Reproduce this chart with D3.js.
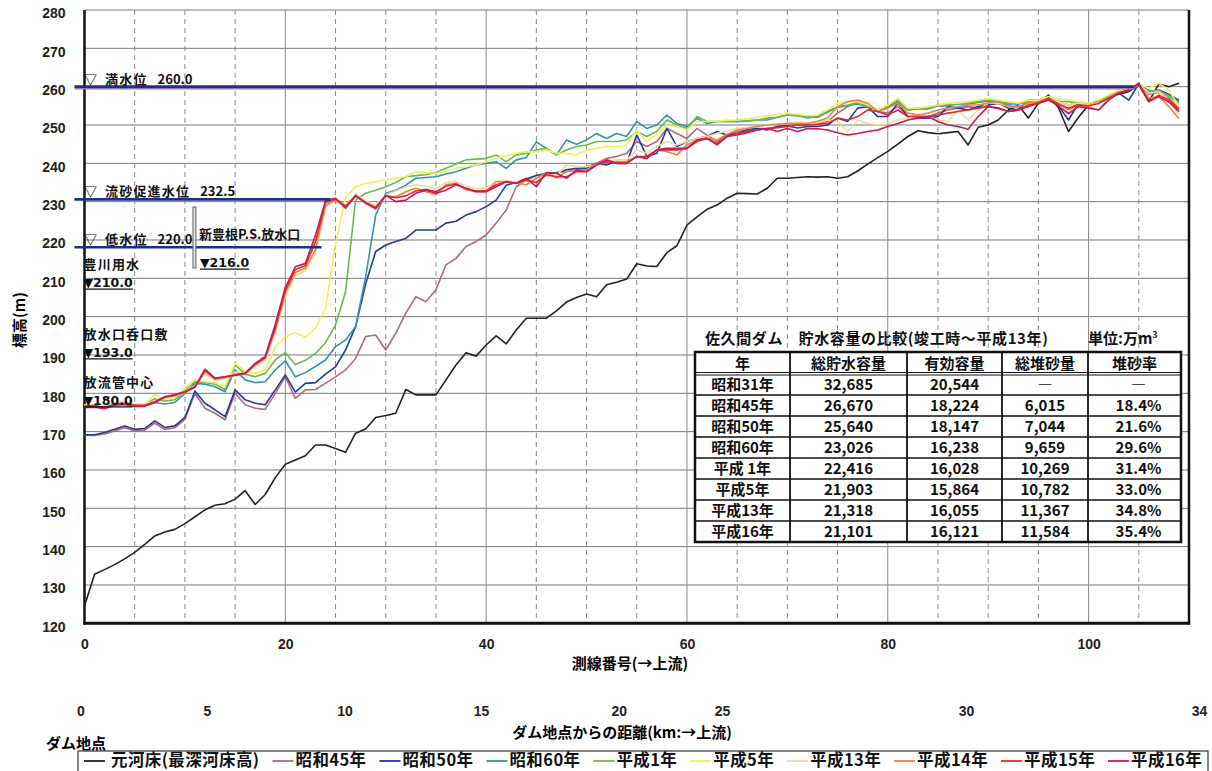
<!DOCTYPE html>
<html>
<head>
<meta charset="utf-8">
<script src="https://cdn.jsdelivr.net/npm/d3@7"></script>
<style>
body { margin: 0; background: #fff; }
svg text { font-family: "Noto Sans CJK JP", "Liberation Sans", sans-serif; }
.tick text { font-family: "Liberation Sans", Arial, sans-serif; font-weight: bold; font-size: 14px; fill: #222; }
.grid-h { stroke: #7a7a7a; stroke-width: 1; }
.grid-v { stroke: #8a8a8a; stroke-width: 1; }
.grid-d { stroke: #8a8a8a; stroke-width: 1; stroke-dasharray: 5 4; }
.series { fill: none; stroke-width: 1.6; stroke-linejoin: round; }
.note { font-size: 13px; font-weight: bold; fill: #111; }
.mark { font-family: "DejaVu Sans", "Liberation Sans", sans-serif; font-size: 12.5px; }
.tbl { font-size: 15px; font-weight: bold; fill: #111; }
</style>
</head>
<body>
<div id="chart"></div>
<script>
// DATA
// survey line numbers 0..109 (測線番号)
const lineNo = d3.range(0, 110);

const seriesNames = ["元河床(最深河床高)", "昭和45年", "昭和50年", "昭和60年", "平成1年",
    "平成5年", "平成13年", "平成14年", "平成15年", "平成16年"];
const seriesColors = ["#222222", "#b86878", "#1f3d9c", "#2f96aa", "#6cb84a",
    "#eef05a", "#f0dc9c", "#e8844a", "#e22a26", "#c81a58"];

const motoKasho = [124.5,132.8,134.0,135.3,136.8,138.5,140.6,142.8,143.8,144.5,
    146.0,147.8,149.6,150.8,151.2,152.4,154.6,151.0,153.6,158.0,
    161.5,162.6,163.7,166.5,166.5,165.6,164.6,169.6,170.7,173.7,
    174.2,174.8,181.0,179.6,179.6,179.6,183.5,187.4,190.6,189.7,
    192.6,195.0,192.9,196.5,199.6,199.6,199.6,201.5,203.8,205.0,
    205.9,205.2,208.3,209.0,209.8,213.8,213.2,213.1,216.7,218.5,
    223.9,226.0,228.0,229.1,230.9,232.2,232.1,232.0,233.5,236.1,
    236.1,236.3,236.5,236.4,236.5,236.1,236.5,238.0,239.8,241.5,
    243.1,245.0,247.0,248.5,248.0,247.7,248.0,248.3,244.8,249.4,
    250.0,251.3,253.9,255.2,251.8,255.7,257.8,254.5,248.3,252.0,
    255.2,256.4,257.4,258.0,258.7,260.5,256.1,260.7,260.0,260.9];

const s45 = [169.1,169.0,169.4,170.2,171.0,170.2,170.4,172.2,170.6,171.0,
    173.2,180.0,176.1,174.8,173.1,180.0,177.0,176.1,175.8,180.0,
    184.3,178.7,180.9,181.0,182.6,184.3,186.1,189.1,194.8,195.2,
    191.3,195.7,200.9,205.2,203.9,207.0,213.5,215.2,218.3,219.6,
    221.3,224.4,227.8,233.9,235.6,236.8,237.4,237.6,237.8,238.3,
    239.1,240.0,241.3,241.8,242.6,245.7,244.4,245.7,249.1,247.8,
    246.5,249.1,247.4,245.7,247.4,248.3,248.7,249.1,249.1,249.5,
    250.0,250.0,250.0,250.2,250.9,253.1,254.8,256.1,255.2,253.5,
    253.1,254.8,252.2,252.2,252.2,253.1,253.9,254.4,254.8,254.4,
    255.2,255.7,255.2,254.4,254.8,255.7,256.5,255.5,254.0,255.7,
    255.2,256.1,257.4,258.7,259.1,260.7,258.0,258.5,257.0,254.4];

const s50 = [169.2,169.2,169.8,170.6,171.5,170.6,170.8,172.8,171.1,171.5,
    173.7,180.6,177.4,175.7,173.9,180.9,178.3,177.4,177.0,180.9,
    184.8,180.3,182.6,182.8,185.0,186.9,191.3,197.4,208.5,217.0,
    218.7,219.6,220.4,222.6,222.6,222.6,224.4,224.9,226.5,227.4,
    228.7,230.4,234.3,235.0,235.9,236.8,237.2,237.4,238.3,238.7,
    238.7,240.0,239.6,240.5,240.0,247.4,241.8,242.6,249.1,244.4,
    245.7,246.5,247.0,248.3,247.4,247.8,248.7,249.1,248.7,249.6,
    249.8,249.2,249.6,249.6,250.0,251.8,250.9,254.4,254.8,252.2,
    252.2,255.7,252.2,251.8,251.8,252.2,254.8,254.4,253.9,254.8,
    255.2,255.7,254.4,253.9,256.5,256.5,257.0,255.0,251.3,255.7,
    255.2,256.1,257.4,258.3,256.5,260.7,258.7,259.1,258.0,256.5];

const s60 = [176.5,176.7,176.5,177.2,177.4,176.9,176.9,177.6,177.2,177.6,
    180.0,182.6,182.4,181.7,180.4,186.1,183.5,182.8,183.0,186.1,
    188.5,184.3,185.4,187.0,188.7,192.2,193.9,197.4,210.4,226.5,
    232.2,233.0,234.3,236.1,236.3,236.5,237.2,237.8,238.7,239.6,
    240.0,240.4,238.7,240.9,241.5,245.6,243.9,242.2,246.1,245.0,
    246.1,247.8,246.5,247.8,247.0,250.9,249.1,250.0,252.6,250.4,
    249.6,251.7,250.4,250.9,250.9,250.9,251.0,251.3,251.3,252.0,
    252.6,252.4,252.2,252.0,253.3,254.6,255.0,255.5,254.8,253.9,
    254.6,256.1,253.9,254.2,254.2,255.0,255.0,255.5,255.5,255.9,
    256.3,255.9,255.5,255.5,256.1,256.5,257.0,256.0,255.2,255.7,
    255.2,256.1,257.4,258.7,259.1,260.5,259.0,258.7,257.8,256.1];

const h1 = [176.8,176.9,176.6,177.4,177.6,177.0,177.0,178.6,178.0,178.3,
    180.8,183.0,182.8,182.4,181.0,187.4,185.0,184.3,185.2,188.7,
    190.6,187.5,188.6,190.4,193.2,197.8,206.5,230.4,232.2,233.0,
    233.9,235.0,236.5,236.8,237.0,237.6,238.7,239.8,240.9,241.1,
    241.3,242.2,240.4,242.2,242.6,243.5,243.9,242.2,243.5,244.4,
    244.8,245.7,245.7,245.7,246.1,248.3,247.0,248.3,251.3,250.0,
    249.1,252.2,250.9,250.9,250.9,250.9,251.1,251.3,251.8,252.0,
    252.6,252.4,251.8,252.2,253.5,254.8,255.2,255.7,254.8,253.9,
    254.8,256.5,253.9,254.4,254.4,255.2,255.2,255.7,255.7,256.1,
    256.5,256.1,255.7,255.7,256.1,256.5,257.0,256.2,256.1,255.7,
    255.5,256.1,257.4,258.7,259.1,260.5,258.7,259.1,257.4,255.7];

const h5 = [177.0,177.0,176.8,177.6,177.8,177.2,177.2,179.6,178.6,179.0,
    181.3,183.6,183.0,182.8,181.7,187.8,185.7,185.2,186.1,192.2,
    194.8,195.8,194.6,197.0,202.0,219.0,231.0,233.9,234.8,235.2,
    235.7,236.1,236.5,237.8,237.6,237.4,238.0,238.7,239.1,239.6,
    240.4,241.3,242.0,242.6,243.0,243.0,243.5,242.6,242.6,242.2,
    243.5,243.9,244.4,244.4,244.8,248.7,245.7,247.4,250.0,249.6,
    248.7,250.9,250.9,251.0,251.2,251.3,251.6,252.0,252.4,252.8,
    253.1,252.8,252.4,252.6,254.0,255.7,256.1,256.1,255.2,253.9,
    255.2,257.0,254.4,254.4,254.8,255.2,255.7,255.7,256.1,256.5,
    257.0,256.5,256.1,255.7,256.5,256.5,257.4,256.8,256.5,256.1,
    255.7,256.5,257.8,259.1,259.5,260.7,259.6,260.9,259.1,254.8];

const h13 = [176.9,177.0,176.6,177.5,177.7,177.1,177.1,178.0,178.8,179.2,
    180.6,182.0,185.2,183.4,183.8,185.6,185.2,187.0,188.6,195.8,
    205.2,210.8,212.0,216.5,228.4,230.6,229.0,231.8,230.2,229.0,
    231.8,232.8,233.8,234.4,234.0,233.4,235.0,235.2,234.0,233.4,
    233.6,235.4,235.6,235.2,235.2,236.4,236.8,236.8,239.6,239.1,
    239.1,239.6,240.4,240.9,240.9,243.5,242.6,244.4,245.7,244.8,
    245.7,246.5,247.0,247.8,248.5,249.1,249.4,249.6,250.0,250.2,
    250.4,250.8,250.6,250.8,251.3,250.9,248.3,251.3,250.4,250.0,
    250.4,251.3,251.8,252.2,252.2,251.3,250.9,253.9,251.3,253.9,
    255.7,255.7,254.8,254.8,255.7,256.1,257.0,256.0,255.2,255.7,
    255.2,255.7,257.0,258.7,259.5,260.7,258.3,258.7,256.5,252.6];

const h14 = [176.6,176.6,176.3,177.2,177.4,176.8,176.8,177.6,178.9,179.4,
    180.2,181.5,185.8,183.7,184.1,184.6,185.0,187.4,189.1,196.5,
    206.1,211.5,212.6,217.5,229.0,230.5,228.6,231.3,229.6,228.0,
    231.5,231.3,232.6,233.5,232.6,231.8,234.4,234.8,233.1,232.6,
    232.6,235.2,235.2,234.8,234.4,236.1,237.4,236.2,237.8,238.3,
    238.3,240.0,240.4,240.4,240.4,241.8,241.3,243.5,243.1,242.2,
    244.8,246.1,246.5,246.1,247.6,248.7,249.1,249.6,250.0,250.2,
    250.4,250.4,250.4,251.0,251.8,254.8,256.1,256.5,255.7,253.5,
    254.4,255.7,253.1,252.6,253.1,253.9,254.4,254.8,255.2,255.2,
    255.7,256.1,254.8,254.8,255.7,256.1,257.0,255.5,254.0,255.2,
    254.8,253.9,256.8,258.3,259.1,260.5,257.0,257.4,254.8,251.7];

const h15 = [176.7,176.8,176.2,177.2,177.4,176.9,176.9,177.8,179.1,179.6,
    180.4,181.7,186.0,183.9,184.3,184.8,185.2,187.6,189.4,197.2,
    206.8,212.3,213.3,219.5,229.8,230.7,228.8,231.5,229.8,228.5,
    231.5,231.0,231.5,232.8,233.2,232.6,234.0,234.6,233.4,232.8,
    232.8,234.4,235.2,234.8,235.6,235.0,237.0,236.5,236.5,237.8,
    237.8,239.6,240.4,240.0,240.0,241.8,241.8,243.5,243.5,243.5,
    243.9,245.7,246.5,245.2,247.0,247.8,248.2,248.7,249.1,249.3,
    249.6,250.0,250.0,250.2,250.4,251.8,251.3,252.2,253.9,253.5,
    252.6,253.9,252.2,252.2,252.2,252.6,253.1,253.5,253.9,254.4,
    254.8,254.4,253.5,253.9,255.2,255.7,257.0,255.5,254.4,255.2,
    255.0,255.6,257.0,258.5,259.1,260.9,256.1,257.8,256.5,254.0];

const h16 = [176.3,176.4,176.0,176.9,177.1,176.6,176.6,177.6,179.1,179.6,
    180.4,181.7,186.3,183.9,184.3,184.8,185.2,187.8,189.6,198.0,
    207.6,213.0,213.9,221.2,230.2,230.9,228.3,231.7,229.6,228.3,
    231.7,230.0,230.4,232.2,233.0,232.2,233.0,234.4,233.5,232.6,
    232.6,233.9,235.2,234.8,236.1,233.9,237.6,237.4,236.1,238.3,
    237.8,239.6,240.9,240.0,240.0,241.8,241.3,243.5,243.9,243.9,
    243.9,246.1,246.5,244.8,247.0,247.4,248.0,248.7,249.1,248.3,
    249.1,248.3,249.1,249.0,248.7,248.0,247.4,247.8,248.3,248.7,
    249.6,250.4,251.3,251.8,252.2,250.9,250.0,249.6,248.9,252.2,
    254.8,254.4,253.5,253.9,254.8,255.7,256.5,255.0,253.0,254.8,
    254.4,253.9,256.5,258.3,259.1,260.7,256.1,257.4,256.0,253.5];

const seriesValues = [motoKasho, s45, s50, s60, h1, h5, h13, h14, h15, h16];

// axis ticks
const yTicks = d3.range(120, 281, 10);
const xTicks = [0, 20, 40, 60, 80, 100];
const kmLabels = [0, 5, 10, 15, 20, 25, 30, 34];
const kmAtLine = [-0.4, 12.2, 25.9, 39.5, 53.2, 63.5, 87.8, 111.0];

// reservoir levels: label value, drawn elevation, end line no.
const levelNames = ["満水位", "流砂促進水位", "低水位"];
const levelLabels = ["260.0", "232.5", "220.0"];
const levelDrawn = [260.0, 230.6, 218.1];
const levelEnd = [104.5, 24.5, 23.6];

// intake / outlet notes: name, level label, baseline elevation of name
const intakeNames = ["豊川用水", "放水口呑口敷", "放流管中心"];
const intakeLevels = ["▼210.0", "▼193.0", "▼180.0"];
const intakeAt = [212.4, 194.2, 181.7];

// table
const tableTitle = "佐久間ダム　貯水容量の比較(竣工時～平成13年)";
const tableHead = ["年", "総貯水容量", "有効容量", "総堆砂量", "堆砂率"];
const tableYears = ["昭和31年", "昭和45年", "昭和50年", "昭和60年", "平成 1年", "平成5年", "平成13年", "平成16年"];
const totalCap = ["32,685", "26,670", "25,640", "23,026", "22,416", "21,903", "21,318", "21,101"];
const effCap = ["20,544", "18,224", "18,147", "16,238", "16,028", "15,864", "16,055", "16,121"];
const sediment = ["―", "6,015", "7,044", "9,659", "10,269", "10,782", "11,367", "11,584"];
const sedRate = ["―", "18.4%", "21.6%", "29.6%", "31.4%", "33.0%", "34.8%", "35.4%"];

// CHART SETUP
const W = 1212, H = 771;
const x = d3.scaleLinear().domain([0, 110]).range([84.5, 1189]);
const y = d3.scaleLinear().domain([120, 280]).range([623.3, 10]);

const svg = d3.select("#chart").append("svg")
    .attr("width", W).attr("height", H);

svg.append("rect").attr("width", W).attr("height", H).attr("fill", "#fff");

// grid
const gridG = svg.append("g");
gridG.selectAll("line.grid-h")
    .data(yTicks)
    .join("line")
    .attr("class", "grid-h")
    .attr("x1", x(0)).attr("x2", x(110))
    .attr("y1", d => y(d)).attr("y2", d => y(d));

gridG.selectAll("line.vgrid")
    .data(d3.range(5, 110, 5))
    .join("line")
    .attr("class", d => d % 20 === 0 ? "grid-v" : "grid-d")
    .attr("x1", d => x(d)).attr("x2", d => x(d))
    .attr("y1", y(280)).attr("y2", y(120));

// frame
svg.append("line").attr("x1", x(0)).attr("x2", x(0)).attr("y1", y(280)).attr("y2", y(120) + 1.5)
    .attr("stroke", "#111").attr("stroke-width", 2.5);
svg.append("line").attr("x1", x(110)).attr("x2", x(110)).attr("y1", y(280)).attr("y2", y(120) + 1.5)
    .attr("stroke", "#111").attr("stroke-width", 2.5);
svg.append("line").attr("x1", x(0) - 1).attr("x2", x(110) + 1).attr("y1", y(120)).attr("y2", y(120))
    .attr("stroke", "#111").attr("stroke-width", 3);

// axes (labels only)
const yAxis = svg.append("g")
    .attr("transform", `translate(${x(0)},0)`)
    .call(d3.axisLeft(y).tickValues(yTicks).tickSize(0).tickPadding(19));
yAxis.select(".domain").remove();
yAxis.selectAll(".tick text").attr("dy", "0.55em");

const xAxis = svg.append("g")
    .attr("transform", `translate(0,${y(120)})`)
    .call(d3.axisBottom(x).tickValues(xTicks).tickSize(0).tickPadding(16));
xAxis.select(".domain").remove();

const kmAxis = svg.append("g")
    .attr("transform", "translate(0,700)")
    .call(d3.axisBottom(x).tickValues(kmAtLine).tickFormat((d, i) => kmLabels[i]).tickSize(0).tickPadding(6));
kmAxis.select(".domain").remove();

svg.append("text").attr("x", 630).attr("y", 669).attr("text-anchor", "middle")
    .attr("font-size", 15).attr("font-weight", "bold").text("測線番号(→上流)");
svg.append("text").attr("x", 622).attr("y", 738).attr("text-anchor", "middle")
    .attr("font-size", 15).attr("font-weight", "bold").text("ダム地点からの距離(km:→上流)");
svg.append("text").attr("x", 46).attr("y", 749)
    .attr("font-size", 15).attr("font-weight", "bold").text("ダム地点");
svg.append("text").attr("transform", "translate(25,320) rotate(-90)").attr("text-anchor", "middle")
    .attr("font-size", 15).attr("font-weight", "bold").text("標高(m)");

// series
const line = d3.line()
    .x((d, i) => x(lineNo[i]))
    .y(d => y(d));

svg.append("g").selectAll("path")
    .data(seriesValues)
    .join("path")
    .attr("class", "series")
    .attr("stroke", (d, i) => seriesColors[i])
    .attr("stroke-width", (d, i) => i === 0 ? 1.5 : 1.6)
    .attr("d", line);

// reservoir levels
const lvG = svg.append("g");
levelDrawn.forEach((v, i) => {
    if (i === 0) {
        lvG.append("line")
            .attr("x1", x(-1)).attr("x2", x(levelEnd[i]))
            .attr("y1", y(v) + 2).attr("y2", y(v) + 2)
            .attr("stroke", "#9a7aa8").attr("stroke-width", 1.5);
    }
    lvG.append("line")
        .attr("x1", x(-1)).attr("x2", x(levelEnd[i]))
        .attr("y1", y(v)).attr("y2", y(v))
        .attr("stroke", "#1b2f8c").attr("stroke-width", 2.6);
    const t = lvG.append("text").attr("class", "note")
        .attr("x", 84).attr("y", y(v) - 3);
    t.append("tspan").text("▽");
    t.append("tspan").attr("x", 105).attr("letter-spacing", 1.2).text(levelNames[i]);
    t.append("tspan").attr("dx", 10).text(levelLabels[i]);
});

// 新豊根P.S. outlet
svg.append("rect")
    .attr("x", x(10.95) - 1.5).attr("y", y(228.6))
    .attr("width", 3).attr("height", y(212.7) - y(228.6))
    .attr("fill", "#ddd").attr("stroke", "#666").attr("stroke-width", 1);

function underline(node, x0, yy) {
    const w = node.getComputedTextLength();
    svg.append("line")
        .attr("x1", x0).attr("x2", x0 + w)
        .attr("y1", yy + 2).attr("y2", yy + 2)
        .attr("stroke", "#111").attr("stroke-width", 1.2);
}

svg.append("text").attr("class", "note")
    .attr("x", x(11.5) - 1).attr("y", y(220.2)).attr("font-size", 12.8)
    .text("新豊根P.S.放水口");
const pstLv = svg.append("text").attr("class", "note mark")
    .attr("x", x(11.6) - 1).attr("y", y(212.9)).text("▼216.0");
underline(pstLv.node(), x(11.6) - 1, y(212.9));

// intake notes (name with level underneath)
intakeNames.forEach((name, i) => {
    const x0 = x(0) - 1;
    const y0 = y(intakeAt[i]);
    svg.append("text").attr("class", "note")
        .attr("x", x0).attr("y", y0).attr("font-size", 12.8)
        .attr("letter-spacing", 1.2).text(name);
    const lv = svg.append("text").attr("class", "note mark")
        .attr("x", x0).attr("y", y0 + 18).text(intakeLevels[i]);
    underline(lv.node(), x0, y0 + 18);
});

// table
const colEdges = [695, 790, 907, 1002, 1088, 1181];
const tTop = 352, headH = 22, rowH = 21;
const tBottom = tTop + headH + rowH * tableYears.length;
const tG = svg.append("g");

tG.append("text").attr("class", "tbl").attr("x", 705).attr("y", 344).attr("font-size", 15)
    .attr("letter-spacing", 0.6).text(tableTitle);
const unit = tG.append("text").attr("class", "tbl").attr("x", 1088).attr("y", 344).attr("font-size", 15);
unit.append("tspan").text("単位:万m");
unit.append("tspan").attr("dy", -6).attr("font-size", 9).text("3");

tG.append("rect").attr("x", colEdges[0]).attr("y", tTop)
    .attr("width", colEdges[5] - colEdges[0]).attr("height", tBottom - tTop)
    .attr("fill", "#fff").attr("stroke", "#111").attr("stroke-width", 2.5);

colEdges.slice(1, 5).forEach(cx => {
    tG.append("line").attr("x1", cx).attr("x2", cx).attr("y1", tTop).attr("y2", tBottom)
        .attr("stroke", "#111").attr("stroke-width", 1.8);
});
tG.append("line").attr("x1", colEdges[0]).attr("x2", colEdges[5])
    .attr("y1", tTop + headH - 1.5).attr("y2", tTop + headH - 1.5)
    .attr("stroke", "#111").attr("stroke-width", 1.2);
tG.append("line").attr("x1", colEdges[0]).attr("x2", colEdges[5])
    .attr("y1", tTop + headH + 1).attr("y2", tTop + headH + 1)
    .attr("stroke", "#111").attr("stroke-width", 1.2);
tableYears.forEach((d, r) => {
    if (r === 0) return;
    const ly = tTop + headH + rowH * r;
    tG.append("line").attr("x1", colEdges[0]).attr("x2", colEdges[5])
        .attr("y1", ly).attr("y2", ly)
        .attr("stroke", "#111").attr("stroke-width", 1.6);
});

const colMid = d3.range(5).map(c => (colEdges[c] + colEdges[c + 1]) / 2);
tableHead.forEach((h, c) => {
    tG.append("text").attr("class", "tbl").attr("font-size", 16)
        .attr("x", colMid[c]).attr("y", tTop + headH / 2 + 6)
        .attr("text-anchor", "middle").text(h);
});
const tableCols = [tableYears, totalCap, effCap, sediment, sedRate];
tableCols.forEach((col, c) => {
    col.forEach((v, r) => {
        tG.append("text").attr("class", "tbl")
            .attr("x", colMid[c] + (c === 4 ? 4 : 0))
            .attr("y", tTop + headH + rowH * r + rowH / 2 + 5.5)
            .attr("text-anchor", "middle")
            .attr("font-family", c === 0 ? null : "'Liberation Sans', Arial, sans-serif")
            .text(v);
    });
});

// legend
const legG = svg.append("g");
legG.append("rect").attr("x", 78).attr("y", 751).attr("width", 1130).attr("height", 30)
    .attr("fill", "#fff").attr("stroke", "#333").attr("stroke-width", 1.2);
let lx = 84;
seriesNames.forEach((name, i) => {
    legG.append("line").attr("x1", lx).attr("x2", lx + 21).attr("y1", 761).attr("y2", 761)
        .attr("stroke", seriesColors[i]).attr("stroke-width", 1.8);
    const t = legG.append("text").attr("x", lx + (i === 0 ? 27 : 23)).attr("y", 766)
        .attr("font-size", 16.5).attr("font-weight", "bold").attr("fill", "#111")
        .attr("letter-spacing", 0.4).text(name);
    lx += (i === 0 ? 27 : 23) + t.node().getComputedTextLength() + 13;
});
</script>
</body>
</html>
